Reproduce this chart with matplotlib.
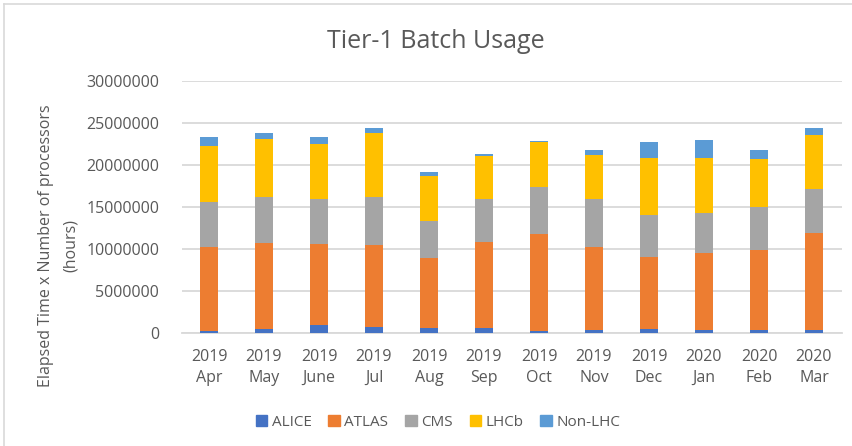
import matplotlib
matplotlib.use("Agg")
import matplotlib.pyplot as plt
import numpy as np
from matplotlib.lines import Line2D

years = ["2019", "2019", "2019", "2019", "2019", "2019", "2019", "2019", "2019", "2020", "2020", "2020"]
months = ["Apr", "May", "June", "Jul", "Aug", "Sep", "Oct", "Nov", "Dec", "Jan", "Feb", "Mar"]
series_names = ["ALICE", "ATLAS", "CMS", "LHCb", "Non-LHC"]

alice = [320000, 480000, 990000, 750000, 670000, 670000, 280000, 440000, 550000, 440000, 440000, 440000]
atlas = [9900000, 10260000, 9630000, 9710000, 8280000, 10190000, 11530000, 9780000, 8520000, 9110000, 9460000, 11450000]
cms = [5430000, 5500000, 5380000, 5780000, 4360000, 5070000, 5620000, 5780000, 5030000, 4710000, 5080000, 5310000]
lhcb = [6620000, 6860000, 6500000, 7570000, 5430000, 5190000, 5350000, 5200000, 6780000, 6620000, 5740000, 6370000]
nonlhc = [1070000, 710000, 840000, 600000, 480000, 200000, 120000, 590000, 1860000, 2100000, 1070000, 840000]

colors = ["#4472C4", "#ED7D31", "#A5A5A5", "#FFC000", "#5B9BD5"]
txt = "#595959"
font = "Open Sans"

fig = plt.figure(figsize=(8.52, 4.46), dpi=100)
ax = fig.add_axes([181.5 / 852, 112.7 / 446, 660 / 852, 252.3 / 446])

x = np.arange(len(months))
bottom = np.zeros(len(months))
for name, vals, c in zip(series_names, [alice, atlas, cms, lhcb, nonlhc], colors):
    ax.bar(x, vals, width=0.33, bottom=bottom, color=c, label=name, zorder=3)
    bottom += np.array(vals)

ax.set_xlim(-0.5, len(months) - 0.5)
ax.set_ylim(0, 30000000)
ax.set_yticks(np.arange(0, 30000001, 5000000))
ax.set_yticklabels([str(v) for v in range(0, 30000001, 5000000)], fontfamily=font, fontsize=11.5, color=txt)
ax.set_xticks(x)
ax.set_xticklabels([f"{y}\n{m}" for y, m in zip(years, months)], fontfamily=font, fontsize=11.5,
                   color=txt, linespacing=1.45)
ax.tick_params(axis="both", length=0)
ax.tick_params(axis="x", pad=11)
ax.tick_params(axis="y", pad=16)
ax.grid(axis="y", color="#D9D9D9", linewidth=1.3, zorder=0)
for s in ["top", "right", "left"]:
    ax.spines[s].set_visible(False)
ax.spines["bottom"].set_color("#D9D9D9")
ax.spines["bottom"].set_linewidth(1.3)

fig.text(436 / 852, 1 - 41 / 446, "Tier-1 Batch Usage", ha="center", va="center",
         fontfamily=font, fontsize=18, color=txt)
fig.text(46 / 852, 1 - 246 / 446, "Elapsed Time x Number of processors", ha="center", va="center",
         rotation=90, fontfamily=font, fontsize=11.5, color=txt)
fig.text(71 / 852, 1 - 246 / 446, "(hours)", ha="center", va="center",
         rotation=90, fontfamily=font, fontsize=11.5, color=txt)

handles = [plt.Rectangle((0, 0), 1, 1, color=c) for c in colors]
leg = fig.legend(handles, series_names, loc="center", bbox_to_anchor=(438 / 852, 1 - 422 / 446), ncol=5,
                 frameon=False, prop={"family": font, "size": 11}, handlelength=0.75, handleheight=0.75,
                 handletextpad=0.3, columnspacing=1.1, labelcolor=txt)

# chart border (left and top visible)
fig.add_artist(Line2D([4 / 852, 4 / 852], [0, 1 - 4 / 446], color="#D9D9D9", linewidth=1.2, transform=fig.transFigure))
fig.add_artist(Line2D([4 / 852, 1], [1 - 4 / 446, 1 - 4 / 446], color="#D9D9D9", linewidth=1.2, transform=fig.transFigure))

fig.savefig("out.png", dpi=100)
